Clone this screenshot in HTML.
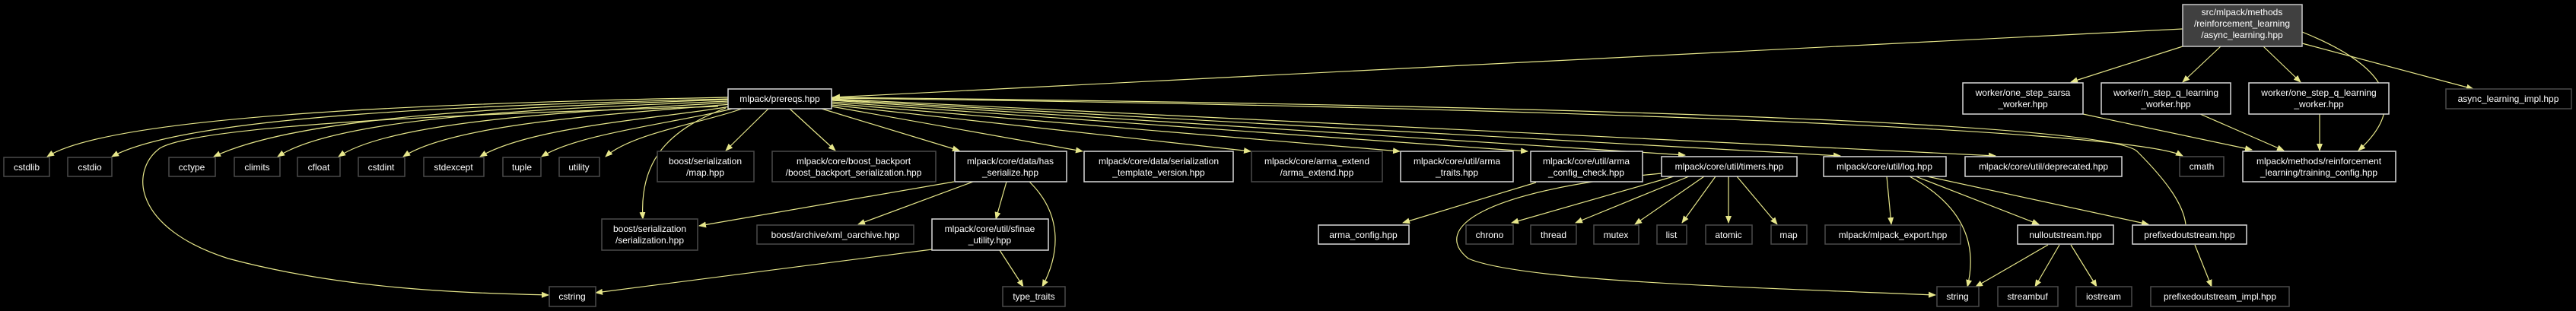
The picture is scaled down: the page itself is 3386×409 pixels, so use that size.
<!DOCTYPE html>
<html><head><meta charset="utf-8"><style>
html,body{margin:0;padding:0;background:#000;width:3386px;height:409px;overflow:hidden}
svg{display:block}
text{font-family:"Liberation Sans",sans-serif;font-size:12px;fill:#fff;text-anchor:middle}
.w{fill:#000;stroke:#d8d8d8;stroke-width:1.5}
.g{fill:#000;stroke:#4a4a4a;stroke-width:1.5}
.e{fill:none;stroke:#e6e68a;stroke-width:1.2}
</style></head><body>
<svg width="3386" height="409" viewBox="0 0 3386 409">
<defs><marker id="a" markerWidth="10" markerHeight="8" refX="9" refY="4" orient="auto" markerUnits="userSpaceOnUse"><path d="M0,0 L10,4 L0,8 z" fill="#e6e68a"/></marker></defs>
<g class="e" marker-end="url(#a)">
<path d="M2869,38 L1095,128" marker-end="url(#a)"/>
<path d="M2869,61 L2722,108" marker-end="url(#a)"/>
<path d="M2919,61 L2869,108" marker-end="url(#a)"/>
<path d="M2975,61 L3024,108" marker-end="url(#a)"/>
<path d="M3026,57 L3251,117" marker-end="url(#a)"/>
<path d="M3026,42 C3120,80 3175,130 3100,198" marker-end="url(#a)"/>
<path d="M2738,150 L2960,197" marker-end="url(#a)"/>
<path d="M2892,150 L3002,198" marker-end="url(#a)"/>
<path d="M3049,150 L3049,198" marker-end="url(#a)"/>
<path d="M957,128 C600,135 150,150 62,206" marker-end="url(#a)"/>
<path d="M957,130 C650,138 250,150 147,206" marker-end="url(#a)"/>
<path d="M957,131 C700,140 400,150 281,206" marker-end="url(#a)"/>
<path d="M957,133 C760,142 450,150 365,206" marker-end="url(#a)"/>
<path d="M957,135 C800,145 520,155 445,206" marker-end="url(#a)"/>
<path d="M960,137 C840,148 600,160 530,206" marker-end="url(#a)"/>
<path d="M965,139 C880,155 700,165 631,206" marker-end="url(#a)"/>
<path d="M970,141 C900,160 760,175 712,206" marker-end="url(#a)"/>
<path d="M975,143 C930,160 830,175 796,206" marker-end="url(#a)"/>
<path d="M1010,143 L954,198" marker-end="url(#a)"/>
<path d="M1038,143 L1098,198" marker-end="url(#a)"/>
<path d="M954,142 C880,170 840,210 845,288" marker-end="url(#a)"/>
<path d="M944,140 C600,150 260,165 210,195 C170,225 175,300 300,340 C450,380 600,385 721,388" marker-end="url(#a)"/>
<path d="M1080,143 L1261,198" marker-end="url(#a)"/>
<path d="M1093,140 L1423,199" marker-end="url(#a)"/>
<path d="M1093,138 L1644,199" marker-end="url(#a)"/>
<path d="M1093,136 L1840,199" marker-end="url(#a)"/>
<path d="M1093,134 L2008,199" marker-end="url(#a)"/>
<path d="M1093,132 L2215,204" marker-end="url(#a)"/>
<path d="M1093,131 L2419,205" marker-end="url(#a)"/>
<path d="M1093,130 L2623,205" marker-end="url(#a)"/>
<path d="M1093,129 C2000,140 2800,170 2869,205" marker-end="url(#a)"/>
<path d="M1093,128 C2000,138 2780,160 2810,200 C2850,240 2870,270 2873,295" marker-end="none"/>
<path d="M1254,239 L919,297" marker-end="url(#a)"/>
<path d="M1279,239 L1128,295" marker-end="url(#a)"/>
<path d="M1323,239 L1309,288" marker-end="url(#a)"/>
<path d="M1353,239 C1395,280 1395,330 1370,377" marker-end="url(#a)"/>
<path d="M1314,329 L1345,377" marker-end="url(#a)"/>
<path d="M1225,328 L783,385" marker-end="url(#a)"/>
<path d="M2019,240 L1844,293" marker-end="url(#a)"/>
<path d="M2200,232 L1987,293" marker-end="url(#a)"/>
<path d="M2220,232 L2071,293" marker-end="url(#a)"/>
<path d="M2240,232 L2149,295" marker-end="url(#a)"/>
<path d="M2255,232 L2211,293" marker-end="url(#a)"/>
<path d="M2272,232 L2272,293" marker-end="url(#a)"/>
<path d="M2283,232 L2336,295" marker-end="url(#a)"/>
<path d="M2184,228 C1950,250 1880,300 1930,340 C2000,370 2300,378 2544,388" marker-end="url(#a)"/>
<path d="M2480,232 L2486,295" marker-end="url(#a)"/>
<path d="M2510,232 C2580,270 2600,320 2586,377" marker-end="url(#a)"/>
<path d="M2518,232 L2680,295" marker-end="url(#a)"/>
<path d="M2533,232 L2824,295" marker-end="url(#a)"/>
<path d="M2692,322 L2597,377" marker-end="url(#a)"/>
<path d="M2707,322 L2675,377" marker-end="url(#a)"/>
<path d="M2722,322 L2756,377" marker-end="url(#a)"/>
<path d="M2885,322 L2907,377" marker-end="url(#a)"/>
</g>
<rect x="2869" y="6" width="157" height="55" fill="#404040" stroke="#c8c8c8" stroke-width="1.5"/>
<text x="2947" y="20">src/mlpack/methods</text><text x="2947" y="35">/reinforcement_learning</text><text x="2947" y="50">/async_learning.hpp</text>
<rect class="w" x="957" y="117" width="136" height="26"/><text x="1025" y="134">mlpack/prereqs.hpp</text>
<rect class="g" x="5" y="207" width="60" height="25"/><text x="35" y="224">cstdlib</text>
<rect class="g" x="89" y="207" width="58" height="25"/><text x="118" y="224">cstdio</text>
<rect class="g" x="222" y="207" width="61" height="25"/><text x="252" y="224">cctype</text>
<rect class="g" x="308" y="207" width="60" height="25"/><text x="338" y="224">climits</text>
<rect class="g" x="391" y="207" width="56" height="25"/><text x="419" y="224">cfloat</text>
<rect class="g" x="471" y="207" width="61" height="25"/><text x="501" y="224">cstdint</text>
<rect class="g" x="557" y="207" width="79" height="25"/><text x="596" y="224">stdexcept</text>
<rect class="g" x="661" y="207" width="50" height="25"/><text x="686" y="224">tuple</text>
<rect class="g" x="735" y="207" width="53" height="25"/><text x="761" y="224">utility</text>
<rect class="g" x="864" y="199" width="127" height="40"/><text x="927" y="216">boost/serialization</text><text x="927" y="231">/map.hpp</text>
<rect class="g" x="1015" y="199" width="215" height="40"/><text x="1122" y="216">mlpack/core/boost_backport</text><text x="1122" y="231">/boost_backport_serialization.hpp</text>
<rect class="w" x="1255" y="199" width="147" height="40"/><text x="1328" y="216">mlpack/core/data/has</text><text x="1328" y="231">_serialize.hpp</text>
<rect class="w" x="1425" y="199" width="196" height="40"/><text x="1523" y="216">mlpack/core/data/serialization</text><text x="1523" y="231">_template_version.hpp</text>
<rect class="g" x="1645" y="199" width="172" height="40"/><text x="1731" y="216">mlpack/core/arma_extend</text><text x="1731" y="231">/arma_extend.hpp</text>
<rect class="w" x="1841" y="199" width="148" height="40"/><text x="1915" y="216">mlpack/core/util/arma</text><text x="1915" y="231">_traits.hpp</text>
<rect class="w" x="2012" y="199" width="147" height="40"/><text x="2085" y="216">mlpack/core/util/arma</text><text x="2085" y="231">_config_check.hpp</text>
<rect class="w" x="2184" y="206" width="178" height="26"/><text x="2273" y="223">mlpack/core/util/timers.hpp</text>
<rect class="w" x="2397" y="206" width="161" height="26"/><text x="2477" y="223">mlpack/core/util/log.hpp</text>
<rect class="w" x="2583" y="206" width="206" height="26"/><text x="2686" y="223">mlpack/core/util/deprecated.hpp</text>
<rect class="g" x="2865" y="206" width="58" height="26"/><text x="2894" y="223">cmath</text>
<rect class="w" x="2948" y="199" width="201" height="40"/><text x="3048" y="216">mlpack/methods/reinforcement</text><text x="3048" y="231">_learning/training_config.hpp</text>
<rect class="w" x="2580" y="109" width="158" height="41"/><text x="2659" y="126">worker/one_step_sarsa</text><text x="2659" y="141">_worker.hpp</text>
<rect class="w" x="2762" y="109" width="170" height="41"/><text x="2847" y="126">worker/n_step_q_learning</text><text x="2847" y="141">_worker.hpp</text>
<rect class="w" x="2956" y="109" width="184" height="41"/><text x="3048" y="126">worker/one_step_q_learning</text><text x="3048" y="141">_worker.hpp</text>
<rect class="g" x="3215" y="117" width="165" height="26"/><text x="3297" y="134">async_learning_impl.hpp</text>
<rect class="g" x="791" y="288" width="126" height="41"/><text x="854" y="305">boost/serialization</text><text x="854" y="320">/serialization.hpp</text>
<rect class="g" x="995" y="296" width="206" height="25"/><text x="1098" y="313">boost/archive/xml_oarchive.hpp</text>
<rect class="w" x="1225" y="288" width="153" height="41"/><text x="1301" y="305">mlpack/core/util/sfinae</text><text x="1301" y="320">_utility.hpp</text>
<rect class="w" x="1733" y="296" width="119" height="25"/><text x="1792" y="313">arma_config.hpp</text>
<rect class="g" x="1927" y="296" width="62" height="25"/><text x="1958" y="313">chrono</text>
<rect class="g" x="2012" y="296" width="60" height="25"/><text x="2042" y="313">thread</text>
<rect class="g" x="2095" y="296" width="59" height="25"/><text x="2124" y="313">mutex</text>
<rect class="g" x="2178" y="296" width="39" height="25"/><text x="2197" y="313">list</text>
<rect class="g" x="2242" y="296" width="61" height="25"/><text x="2272" y="313">atomic</text>
<rect class="g" x="2328" y="296" width="47" height="25"/><text x="2351" y="313">map</text>
<rect class="g" x="2399" y="296" width="178" height="25"/><text x="2488" y="313">mlpack/mlpack_export.hpp</text>
<rect class="w" x="2652" y="296" width="126" height="25"/><text x="2715" y="313">nulloutstream.hpp</text>
<rect class="w" x="2803" y="296" width="150" height="25"/><text x="2878" y="313">prefixedoutstream.hpp</text>
<rect class="g" x="722" y="377" width="61" height="26"/><text x="752" y="394">cstring</text>
<rect class="g" x="1318" y="377" width="82" height="26"/><text x="1359" y="394">type_traits</text>
<rect class="g" x="2546" y="377" width="55" height="26"/><text x="2573" y="394">string</text>
<rect class="g" x="2626" y="377" width="79" height="26"/><text x="2665" y="394">streambuf</text>
<rect class="g" x="2729" y="377" width="73" height="26"/><text x="2765" y="394">iostream</text>
<rect class="g" x="2827" y="377" width="182" height="26"/><text x="2918" y="394">prefixedoutstream_impl.hpp</text>
</svg>
</body></html>
